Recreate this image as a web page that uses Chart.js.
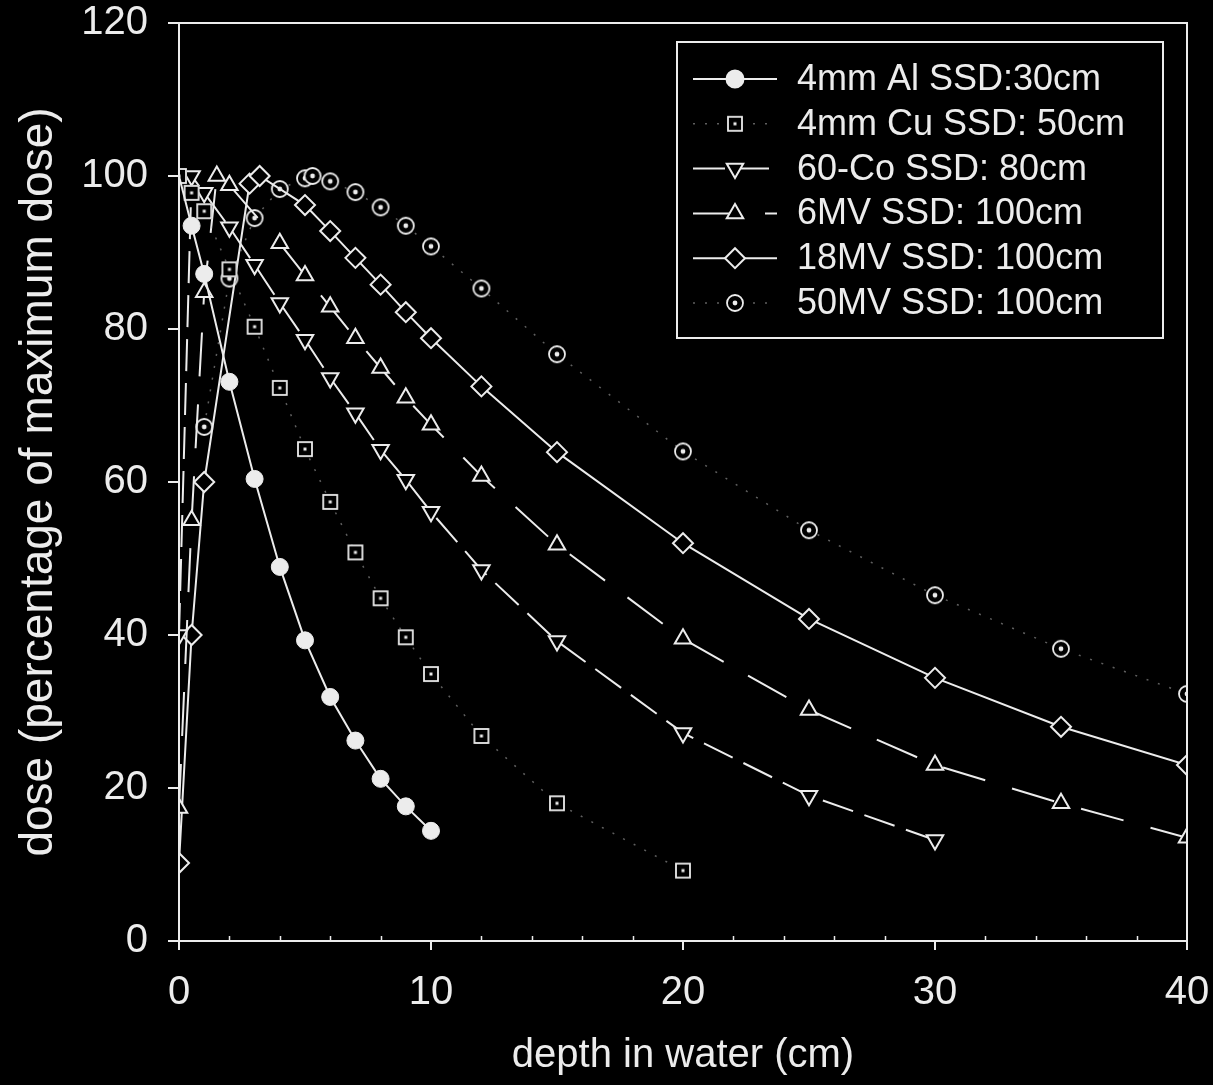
<!DOCTYPE html>
<html>
<head>
<meta charset="utf-8">
<title>Depth dose in water</title>
<script src="https://cdn.jsdelivr.net/npm/chart.js@4.4.1/dist/chart.umd.min.js"></script>
<style>
  html, body { margin: 0; padding: 0; background: #000; }
  #wrap { width: 1213px; height: 1085px; }
</style>
</head>
<body>
<div id="wrap"><canvas id="ddChart" width="1213" height="1085"></canvas></div>
<script>
// depth in water (cm) / dose (% of maximum) for each beam
let alDepth = [0, 0.5, 1, 2, 3, 4, 5, 6, 7, 8, 9, 10];
let alDose  = [100, 93.5, 87.2, 73.1, 60.4, 48.9, 39.3, 31.9, 26.2, 21.2, 17.6, 14.4];

let cuDepth = [0, 0.5, 1, 2, 3, 4, 5, 6, 7, 8, 9, 10, 12, 15, 20];
let cuDose  = [100, 97.8, 95.4, 87.8, 80.3, 72.3, 64.3, 57.4, 50.8, 44.8, 39.7, 34.9, 26.8, 18.0, 9.2];

let coDepth = [0, 0.5, 1, 2, 3, 4, 5, 6, 7, 8, 9, 10, 12, 15, 20, 25, 30];
let coDose  = [40, 100, 97.8, 93.3, 88.4, 83.4, 78.6, 73.6, 69.0, 64.2, 60.3, 56.1, 48.5, 39.2, 27.2, 19.0, 13.2];

let mv6Depth = [0, 0.5, 1, 1.5, 2, 4, 5, 6, 7, 8, 9, 10, 12, 15, 20, 25, 30, 35, 40];
let mv6Dose  = [17.4, 55, 84.8, 100, 98.8, 91.2, 87.0, 82.9, 78.8, 74.9, 71.0, 67.5, 60.8, 51.8, 39.5, 30.2, 23.0, 18.0, 13.5];

let mv18Depth = [0, 0.5, 1, 2.8, 3.2, 5, 6, 7, 8, 9, 10, 12, 15, 20, 25, 30, 35, 40];
let mv18Dose  = [10.2, 40, 60, 99, 100, 96.2, 92.8, 89.3, 85.8, 82.2, 78.8, 72.5, 63.9, 52.0, 42.1, 34.4, 28.0, 23.0];

let mv50Depth = [1, 2, 3, 4, 5, 5.3, 6, 7, 8, 9, 10, 12, 15, 20, 25, 30, 35, 40];
let mv50Dose  = [67.2, 86.6, 94.5, 98.3, 99.7, 100, 99.3, 97.9, 95.9, 93.5, 90.8, 85.3, 76.7, 64.0, 53.7, 45.2, 38.2, 32.3];

let seriesLabels = [
  '4mm Al SSD:30cm',
  '4mm Cu SSD: 50cm',
  '60-Co SSD: 80cm',
  '6MV SSD: 100cm',
  '18MV SSD: 100cm',
  '50MV SSD: 100cm'
];

let xTicks = [0, 10, 20, 30, 40];
let yTicks = [0, 20, 40, 60, 80, 100, 120];

const fg = '#ececec';
const faint = 'rgba(190,190,190,0.5)';
const font = 'Liberation Sans, Arial, sans-serif';

function toPoints(xs, ys) {
  return xs.map((x, i) => ({x: x, y: ys[i]}));
}

// hollow square with a dot in the middle
function boxDot() {
  const c = document.createElement('canvas');
  c.width = 18; c.height = 18;
  const g = c.getContext('2d');
  g.fillStyle = '#000';
  g.fillRect(1, 1, 16, 16);
  g.strokeStyle = fg;
  g.lineWidth = 1.8;
  g.strokeRect(2, 2, 14, 14);
  g.fillStyle = fg;
  g.fillRect(7.5, 7.5, 3, 3);
  return c;
}

// ring with a dot in the middle
function ringDot() {
  const c = document.createElement('canvas');
  c.width = 20; c.height = 20;
  const g = c.getContext('2d');
  g.beginPath();
  g.arc(10, 10, 8, 0, Math.PI * 2);
  g.fillStyle = '#000';
  g.fill();
  g.strokeStyle = fg;
  g.lineWidth = 1.8;
  g.stroke();
  g.beginPath();
  g.arc(10, 10, 2.4, 0, Math.PI * 2);
  g.fillStyle = fg;
  g.fill();
  return c;
}

const boxDotImg = boxDot();
const ringDotImg = ringDot();

const datasets = [
  {
    label: seriesLabels[0],
    data: toPoints(alDepth, alDose),
    borderColor: fg, backgroundColor: fg, borderWidth: 2,
    pointStyle: 'circle',
    pointRadius: ctx => ctx.dataIndex === 0 ? 0 : 8.5,
    pointBorderWidth: 1
  },
  {
    label: seriesLabels[1],
    data: toPoints(cuDepth, cuDose),
    borderColor: faint, backgroundColor: '#000', borderWidth: 1.5,
    borderDash: [2, 10],
    pointStyle: boxDotImg, pointRadius: 9
  },
  {
    label: seriesLabels[2],
    data: toPoints(coDepth, coDose),
    borderColor: fg, backgroundColor: '#000', borderWidth: 2,
    borderDash: [32, 12],
    pointStyle: 'triangle', pointRotation: 180, pointRadius: 9.5,
    pointBorderWidth: 2
  },
  {
    label: seriesLabels[3],
    data: toPoints(mv6Depth, mv6Dose),
    borderColor: fg, backgroundColor: '#000', borderWidth: 2,
    borderDash: [44, 28],
    pointStyle: 'triangle', pointRadius: 9.5,
    pointBorderWidth: 2
  },
  {
    label: seriesLabels[4],
    data: toPoints(mv18Depth, mv18Dose),
    borderColor: fg, backgroundColor: '#000', borderWidth: 2,
    pointStyle: 'rectRot', pointRadius: 10,
    pointBorderWidth: 2
  },
  {
    label: seriesLabels[5],
    data: toPoints(mv50Depth, mv50Dose),
    borderColor: faint, backgroundColor: '#000', borderWidth: 1.5,
    borderDash: [2, 10],
    pointStyle: ringDotImg, pointRadius: 10
  }
];

datasets.forEach(d => {
  d.showLine = true;
  d.tension = 0;
  d.pointBorderColor = fg;
  d.pointBackgroundColor = d.label === seriesLabels[0] ? fg : '#000';
});

// box round the plot, small inside ticks on the depth axis, and the legend
const frameAndLegend = {
  id: 'frameAndLegend',
  afterDatasetsDraw(chart) {
    const {ctx, chartArea: a, scales: {x}} = chart;
    ctx.save();
    ctx.strokeStyle = fg;
    ctx.lineWidth = 2;
    ctx.setLineDash([]);
    ctx.strokeRect(a.left, a.top, a.right - a.left, a.bottom - a.top);

    ctx.lineWidth = 1.5;
    for (let v = 2; v < 40; v += 2) {
      if (v % 10 === 0) continue;
      const px = Math.round(x.getPixelForValue(v)) + 0.5;
      ctx.beginPath();
      ctx.moveTo(px, a.bottom);
      ctx.lineTo(px, a.bottom - 5);
      ctx.stroke();
    }

    // legend box
    const lb = {left: 677, top: 42, right: 1163, bottom: 338};
    ctx.fillStyle = '#000';
    ctx.fillRect(lb.left, lb.top, lb.right - lb.left, lb.bottom - lb.top);
    ctx.lineWidth = 2;
    ctx.strokeStyle = fg;
    ctx.strokeRect(lb.left, lb.top, lb.right - lb.left, lb.bottom - lb.top);

    const rowTop = 79, rowStep = 44.8;
    ctx.font = '36px ' + font;
    ctx.textBaseline = 'middle';
    ctx.textAlign = 'left';
    chart.data.datasets.forEach((ds, i) => {
      const y = rowTop + i * rowStep;
      ctx.save();
      ctx.strokeStyle = ds.borderColor;
      ctx.lineWidth = ds.borderWidth;
      ctx.setLineDash(ds.borderDash || []);
      ctx.beginPath();
      ctx.moveTo(693, y);
      ctx.lineTo(777, y);
      ctx.stroke();
      ctx.setLineDash([]);
      ctx.fillStyle = ds.pointBackgroundColor;
      ctx.strokeStyle = fg;
      const r = typeof ds.pointRadius === 'function' ? 8.5 : ds.pointRadius;
      Chart.helpers.drawPoint(ctx, {
        pointStyle: ds.pointStyle,
        rotation: ds.pointRotation || 0,
        radius: r,
        borderWidth: ds.pointBorderWidth || 1
      }, 735, y);
      ctx.restore();
      ctx.fillStyle = fg;
      ctx.fillText(ds.label, 797, y + 1);
    });
    ctx.restore();
  }
};

new Chart(document.getElementById('ddChart'), {
  type: 'scatter',
  data: {datasets: datasets},
  options: {
    responsive: false,
    animation: false,
    devicePixelRatio: 1,
    layout: {padding: {top: 23, right: 26, left: 0, bottom: 0}},
    plugins: {
      legend: {display: false},
      tooltip: {enabled: false}
    },
    scales: {
      x: {
        type: 'linear',
        min: xTicks[0],
        max: xTicks[xTicks.length - 1],
        afterBuildTicks: s => { s.ticks = xTicks.map(v => ({value: v})); },
        afterFit: s => { s.height = 144; s.paddingLeft = 0; s.paddingRight = 0; },
        ticks: {color: fg, font: {family: font, size: 40}, padding: 19},
        grid: {display: true, drawOnChartArea: false, color: fg, lineWidth: 2, tickLength: 9},
        border: {color: fg, width: 2},
        title: {
          display: true, text: 'depth in water (cm)', color: fg,
          font: {family: font, size: 40}, padding: {top: 0, bottom: 5}
        }
      },
      y: {
        type: 'linear',
        min: yTicks[0],
        max: yTicks[yTicks.length - 1],
        afterBuildTicks: s => { s.ticks = yTicks.map(v => ({value: v})); },
        afterFit: s => { s.width = 179; s.paddingTop = 0; s.paddingBottom = 0; },
        ticks: {color: fg, font: {family: font, size: 40}, padding: 20},
        grid: {display: true, drawOnChartArea: false, color: fg, lineWidth: 2, tickLength: 11},
        border: {color: fg, width: 2},
        title: {
          display: true, text: 'dose (percentage of maximum dose)', color: fg,
          font: {family: font, size: 46}, padding: {top: 12, bottom: 0}
        }
      }
    }
  },
  plugins: [frameAndLegend]
});
</script>
</body>
</html>
